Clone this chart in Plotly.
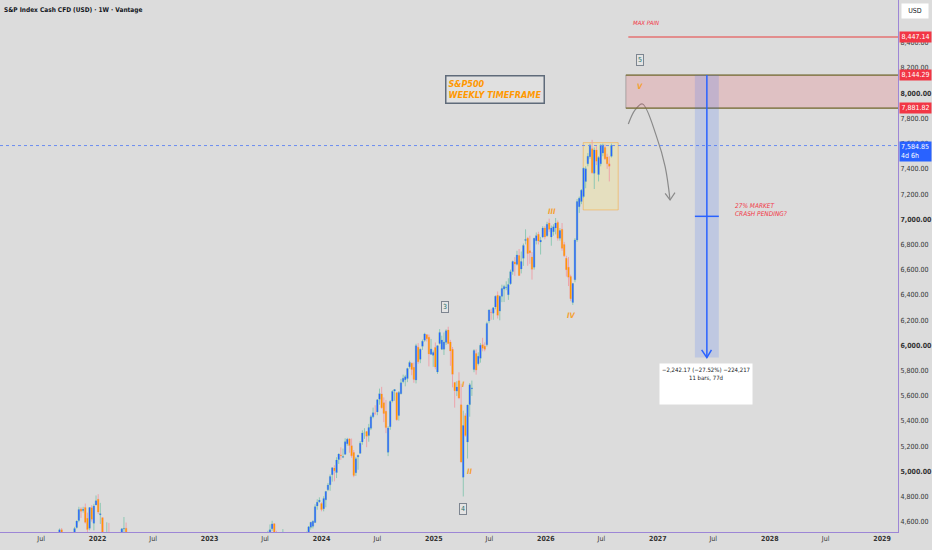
import plotly.graph_objects as go
import pandas as pd

# weekly candles, late 2021 - spring 2022
seg1_start = "2021-08-02"
seg1_open = [4406, 4437, 4461, 4450, 4513, 4535, 4474, 4402, 4442, 4348, 4385, 4464, 4553,
             4610, 4701, 4689, 4712, 4628, 4548, 4710, 4588, 4733, 4778, 4655, 4632, 4356,
             4431, 4505, 4412, 4332, 4354, 4328, 4188, 4462, 4541, 4548, 4474, 4385]
seg1_high = [4440, 4468, 4480, 4513, 4546, 4549, 4485, 4465, 4466, 4415, 4475, 4559, 4608,
             4718, 4714, 4718, 4744, 4672, 4713, 4731, 4741, 4808, 4818, 4749, 4632, 4453,
             4595, 4590, 4490, 4386, 4416, 4329, 4465, 4546, 4637, 4593, 4471, 4513]
seg1_low = [4393, 4430, 4368, 4441, 4513, 4456, 4427, 4305, 4288, 4279, 4329, 4459, 4546,
            4595, 4630, 4672, 4585, 4495, 4532, 4600, 4531, 4733, 4662, 4582, 4395, 4222,
            4405, 4401, 4327, 4114, 4267, 4157, 4162, 4424, 4507, 4450, 4381, 4270]
seg1_close = [4437, 4468, 4442, 4509, 4535, 4458, 4432, 4455, 4357, 4391, 4471, 4545, 4605,
              4697, 4683, 4698, 4595, 4538, 4712, 4620, 4725, 4766, 4677, 4663, 4398, 4432,
              4501, 4419, 4349, 4385, 4329, 4204, 4463, 4543, 4546, 4488, 4393, 4272]

# weekly candles, mid 2023 - summer 2026
seg2_start = "2023-06-26"
seg2_open = [
    4337, 4450, 4394, 4508, 4543, 4584, 4492, 4464, 4380, 4419, 4510, 4459, 4453, 4314,
    4284, 4289, 4342, 4239, 4120, 4364, 4406, 4513, 4555, 4564, 4593, 4725, 4758,
    4745, 4703, 4773, 4853, 4892, 4973, 5026, 4990, 5093, 5130, 5111, 5135, 5219, 5257,
    5202, 5149, 4988, 5114, 5142, 5233, 5305, 5315, 5284, 5341, 5432, 5460, 5471, 5572,
    5614, 5544, 5476, 5151, 5353, 5557, 5637, 5624, 5442, 5615, 5711, 5727, 5737, 5829,
    5858, 5825, 5724, 5985, 5888, 5992, 6040, 6084, 6063, 5929, 5921,
    5982, 5788, 6014, 5969, 5969, 6023, 6121, 6026, 5968, 5705, 5636, 5718, 5527, 4953,
    5441, 5232, 5529, 5655, 5807, 5934, 5854, 5897, 6005, 5993, 6004, 6193, 6262, 6255,
    6304, 6397, 6271, 6389, 6446, 6457, 6401, 6489, 6586, 6660, 6642, 6712, 6605, 6690,
    6832, 6850, 6750, 6700, 6620, 6830, 6880, 6820, 6860, 6930,
    6870, 6970, 6860, 6900, 6930, 6975, 6850, 6920, 6800, 6690, 6620, 6545, 6340, 6520,
    6836, 7100, 7140, 7180, 7300, 7440, 7497, 7560, 7365, 7550, 7355, 7440, 7525, 7570,
    7495, 7440, 7500]
seg2_high = [
    4458, 4456, 4527, 4578, 4607, 4585, 4527, 4490, 4450, 4541, 4514, 4511, 4467, 4339,
    4324, 4385, 4394, 4259, 4366, 4415, 4521, 4560, 4595, 4609, 4738, 4778, 4793,
    4754, 4802, 4842, 4907, 4975, 5030, 5048, 5111, 5140, 5190, 5180, 5262, 5265, 5264,
    5260, 5168, 5114, 5128, 5239, 5325, 5342, 5315, 5376, 5447, 5505, 5524, 5570, 5656,
    5670, 5586, 5566, 5358, 5563, 5643, 5651, 5626, 5636, 5733, 5767, 5765, 5822, 5878,
    5862, 5863, 6012, 6017, 5972, 6045, 6099, 6084, 6085, 6050, 5959,
    6022, 6000, 6128, 6076, 6101, 6127, 6147, 6043, 5986, 5705, 5715, 5786, 5695, 5481,
    5460, 5528, 5700, 5720, 5969, 5968, 5944, 6017, 6059, 6023, 6187, 6284, 6290, 6303,
    6395, 6427, 6395, 6481, 6480, 6508, 6532, 6600, 6672, 6699, 6750, 6764, 6744, 6807,
    6920, 6860, 6870, 6740, 6850, 6895, 6901, 6860, 6945, 6945,
    6980, 7005, 6950, 6960, 7010, 6990, 6930, 6970, 6820, 6710, 6700, 6560, 6495, 6850,
    7160, 7180, 7240, 7410, 7420, 7525, 7600, 7630, 7570, 7580, 7500, 7595, 7600, 7595,
    7520, 7500, 7600]
seg2_low = [
    4328, 4385, 4389, 4504, 4527, 4474, 4450, 4335, 4356, 4418, 4430, 4447, 4317, 4238,
    4217, 4284, 4222, 4104, 4104, 4329, 4393, 4507, 4537, 4546, 4590, 4695, 4751,
    4682, 4682, 4714, 4842, 4845, 4918, 4920, 4946, 5058, 5090, 5104, 5132, 5203, 5147,
    5107, 4953, 4963, 5012, 5142, 5211, 5257, 5191, 5234, 5327, 5420, 5447, 5445, 5528,
    5497, 5390, 5302, 5120, 5329, 5546, 5560, 5403, 5402, 5611, 5698, 5674, 5707, 5815,
    5762, 5702, 5697, 5853, 5858, 5963, 6028, 6030, 5832, 5925, 5829,
    5809, 5773, 6006, 5963, 5923, 6003, 6009, 5837, 5666, 5505, 5597, 5572, 5069, 4800,
    5274, 5101, 5433, 5598, 5786, 5767, 5840, 5862, 5952, 5952, 5990, 6174, 6202, 6202,
    6285, 6212, 6198, 6342, 6343, 6437, 6360, 6480, 6560, 6551, 6633, 6550, 6570, 6630,
    6800, 6631, 6646, 6521, 6600, 6800, 6800, 6720, 6850, 6840,
    6860, 6900, 6790, 6870, 6880, 6830, 6830, 6750, 6700, 6545, 6470, 6350, 6320, 6500,
    6820, 7050, 7120, 7170, 7246, 7420, 7480, 7360, 7240, 7430, 7300, 7420, 7500, 7470,
    7400, 7300, 7490]
seg2_close = [
    4450, 4399, 4505, 4536, 4582, 4478, 4464, 4370, 4406, 4515, 4457, 4450, 4320, 4288,
    4308, 4327, 4224, 4117, 4358, 4415, 4514, 4559, 4595, 4604, 4719, 4754, 4770,
    4697, 4784, 4840, 4891, 4959, 5027, 5005, 5089, 5137, 5124, 5117, 5234, 5254, 5204,
    5123, 4967, 5100, 5128, 5223, 5303, 5305, 5278, 5347, 5432, 5465, 5460, 5567, 5615,
    5505, 5459, 5347, 5344, 5554, 5634, 5648, 5408, 5626, 5702, 5738, 5751, 5815, 5864,
    5808, 5729, 5996, 5870, 5969, 6032, 6090, 6051, 5931, 5971, 5942,
    5827, 5997, 6101, 6041, 6026, 6115, 6013, 5955, 5770, 5639, 5668, 5581, 5074, 5363,
    5283, 5525, 5686, 5660, 5958, 5803, 5912, 6000, 5977, 5968, 6173, 6280, 6260, 6297,
    6389, 6238, 6389, 6450, 6467, 6460, 6482, 6584, 6664, 6644, 6716, 6553, 6664, 6792,
    6840, 6728, 6734, 6603, 6849, 6870, 6827, 6834, 6930, 6860,
    6960, 6920, 6930, 6940, 6970, 6850, 6910, 6770, 6710, 6600, 6540, 6370, 6490, 6836,
    7140, 7167, 7230, 7405, 7400, 7500, 7590, 7370, 7550, 7460, 7490, 7590, 7590, 7480,
    7440, 7420, 7585]

x_tick_dates = ["2021-07-01", "2022-01-01", "2022-07-01", "2023-01-01", "2023-07-01",
                "2024-01-01", "2024-07-01", "2025-01-01", "2025-07-01", "2026-01-01",
                "2026-07-01", "2027-01-01", "2027-07-01", "2028-01-01", "2028-07-01",
                "2029-01-01"]
x_tick_text = ["Jul", "<b>2022</b>", "Jul", "<b>2023</b>", "Jul", "<b>2024</b>", "Jul",
               "<b>2025</b>", "Jul", "<b>2026</b>", "Jul", "<b>2027</b>", "Jul",
               "<b>2028</b>", "Jul", "<b>2029</b>"]
y_ticks = list(range(4600, 8401, 200))

current_price = 7584.85
max_pain = 8447.14
zone_top = 8144.29
zone_bottom = 7881.82
target_price = 5902.12
mid_price = 7023.2

# arc projection drawn on the chart
arc_dates = ["2026-09-27", "2026-10-19", "2026-11-12", "2026-12-28", "2027-01-25", "2027-02-10"]
arc_prices = [7756, 7868, 7915, 7656, 7417, 7153]
arc_head_dates = ["2027-01-25", "2027-02-10", "2027-02-26"]
arc_head_prices = [7206, 7153, 7211]

FONT = "Liberation Sans Narrow, DejaVu Sans Condensed, Roboto, sans-serif"
BG = "#dcdcdc"
AXIS = "#9d86d6"


def weeks(start, n):
    return pd.date_range(start, periods=n, freq="W-MON")


dates = list(weeks(seg1_start, len(seg1_open))) + list(weeks(seg2_start, len(seg2_open)))
opens = seg1_open + seg2_open
highs = seg1_high + seg2_high
lows = seg1_low + seg2_low
closes = seg1_close + seg2_close

fig = go.Figure()

# pale candle (wicks) under solid bodies
fig.add_trace(go.Candlestick(
    x=dates, open=opens, high=highs, low=lows, close=closes,
    increasing=dict(line=dict(color="#8ec8b4", width=1), fillcolor="#8ec8b4"),
    decreasing=dict(line=dict(color="#eda4ab", width=1), fillcolor="#eda4ab"),
    hoverinfo="skip"))
fig.add_trace(go.Candlestick(
    x=dates, open=opens, high=highs, low=lows, close=closes,
    increasing=dict(line=dict(color="#2962ff", width=0), fillcolor="#2962ff"),
    decreasing=dict(line=dict(color="#ff9800", width=0), fillcolor="#ff9800"),
    hoverinfo="skip"))

fig.add_trace(go.Scatter(x=arc_dates, y=arc_prices, mode="lines",
                         line=dict(color="#8a8a8a", width=1.2, shape="spline"), hoverinfo="skip"))
fig.add_trace(go.Scatter(x=arc_head_dates, y=arc_head_prices, mode="lines",
                         line=dict(color="#8a8a8a", width=1.2), hoverinfo="skip"))

shapes = [
    # current price dotted line
    dict(type="line", xref="paper", x0=0, x1=1, y0=current_price, y1=current_price,
         line=dict(color="#6a8cf0", width=1, dash="dot")),
    # consolidation box
    dict(type="rect", x0="2026-05-03", x1="2026-08-25", y0=7074, y1=7608, layer="below",
         fillcolor="rgba(255,235,120,0.28)", line=dict(color="rgba(245,170,60,0.55)", width=1)),
    # max pain
    dict(type="line", x0="2026-09-27", x1="2030-06-01", y0=max_pain, y1=max_pain,
         line=dict(color="#e57373", width=1.5)),
    # red zone
    dict(type="rect", x0="2026-09-19", x1="2030-06-01", y0=zone_bottom, y1=zone_top,
         fillcolor="rgba(242,54,69,0.16)", line=dict(color="rgba(120,120,120,0.5)", width=1)),
    dict(type="line", x0="2026-09-19", x1="2030-06-01", y0=zone_top, y1=zone_top,
         line=dict(color="#7d7236", width=1.3)),
    dict(type="line", x0="2026-09-19", x1="2030-06-01", y0=zone_bottom, y1=zone_bottom,
         line=dict(color="#7d7236", width=1.3)),
    # measure tool
    dict(type="rect", x0="2027-05-02", x1="2027-07-19", y0=target_price, y1=zone_top,
         fillcolor="rgba(41,98,255,0.16)", line=dict(width=0)),
    dict(type="line", x0="2027-06-10", x1="2027-06-10", y0=target_price, y1=zone_top,
         line=dict(color="#2962ff", width=1.5)),
    dict(type="line", x0="2027-05-02", x1="2027-07-19", y0=mid_price, y1=mid_price,
         line=dict(color="#2962ff", width=1.5)),
    dict(type="path", path="M 2027-05-24,5963 L 2027-06-10,%s L 2027-06-25,5963" % target_price,
         line=dict(color="#2962ff", width=1.5)),
]

ann = []


def label(text, x, y, color, size=7, italic=True, **kw):
    t = "<i>%s</i>" % text if italic else text
    d = dict(text=t, x=x, y=y, showarrow=False, font=dict(family=FONT, size=size, color=color))
    d.update(kw)
    ann.append(d)


label("<b>S&P Index Cash CFD (USD) · 1W · Vantage</b>", 0, 1, "#131722", size=6.5, italic=False,
      xref="paper", yref="paper", xanchor="left", yanchor="top", xshift=2, yshift=-4)
label("<b>S&P500<br>WEEKLY TIMEFRAME</b>", "2025-02-06", 8145, "#ff9800", size=9,
      xanchor="left", yanchor="top", align="left", bordercolor="#5f6b7a", borderwidth=1.5,
      borderpad=2, bgcolor="#e0e0e0")
for txt, xd, yp in [("3", "2025-02-06", 6304), ("4", "2025-04-07", 4701), ("5", "2026-11-04", 8264)]:
    label(txt, xd, yp, "#1f6f6a", size=7, italic=False, bordercolor="#7d8590", borderwidth=1,
          borderpad=1, bgcolor="#e4e4e4")
for txt, xd, yp in [("I", "2025-04-08", 5686), ("II", "2025-04-29", 4995), ("III", "2026-01-21", 7064),
                    ("IV", "2026-03-27", 6233), ("V", "2026-11-04", 8050)]:
    label("<b>%s</b>" % txt, xd, yp, "#f5a030", size=7.5)
label("MAX PAIN", "2026-10-06", 8562, "#f23645", size=6, xanchor="left")
label("27% MARKET<br>CRASH PENDING?", "2027-09-03", 7074, "#f23645", size=6.5,
      xanchor="left", align="left")
label("−2,242.17 (−27.52%) −224,217<br>11 bars, 77d", "2027-06-08", 5860, "#131722", size=6,
      italic=False, yanchor="top", width=88, height=36, valign="top", bgcolor="#ffffff",
      borderpad=2)

# axis price tags
for price, color in [(max_pain, "#f23645"), (zone_top, "#f23645"), (zone_bottom, "#f23645")]:
    label(f"{price:,.2f}", 1, price, "#ffffff", size=7, italic=False, xref="paper",
          xanchor="left", xshift=1, width=29, bgcolor=color, borderpad=1)
label(f"{current_price:,.2f}<br>4d 6h", 1, current_price, "#ffffff", size=7, italic=False,
      xref="paper", xanchor="left", yanchor="top", xshift=1, yshift=5, width=29, align="left",
      bgcolor="#2962ff", borderpad=1)
label("USD", 1, 1, "#131722", size=7, italic=False, xref="paper", yref="paper",
      xanchor="left", yanchor="top", xshift=3, yshift=-3, width=24, height=12,
      bgcolor="#ffffff", borderpad=1)

fig.update_layout(
    width=932, height=550,
    margin=dict(l=0, r=34, t=0, b=18),
    paper_bgcolor=BG, plot_bgcolor=BG,
    showlegend=False, boxgap=0.1,
    font=dict(family=FONT, size=7, color="#333333"),
    shapes=shapes, annotations=ann,
    xaxis=dict(type="date", range=["2021-02-17", "2029-02-22"], rangeslider=dict(visible=False),
               tickvals=x_tick_dates, ticktext=x_tick_text, showgrid=False, zeroline=False,
               showline=True, linecolor=AXIS, linewidth=1, ticks="", fixedrange=True,
               tickfont=dict(size=7, color="#333333")),
    yaxis=dict(side="right", range=[4518, 8740], tickvals=y_ticks,
               ticktext=[("<b>%s</b>" if v % 1000 == 0 else "%s") % f"{v:,.2f}" for v in y_ticks],
               showgrid=False, zeroline=False, showline=True, linecolor=AXIS, linewidth=1,
               ticks="", automargin=False, fixedrange=True,
               tickfont=dict(size=7, color="#333333")),
)

fig.write_html("out.html", config={"displayModeBar": False},
               post_script="document.body.style.margin='0';")
